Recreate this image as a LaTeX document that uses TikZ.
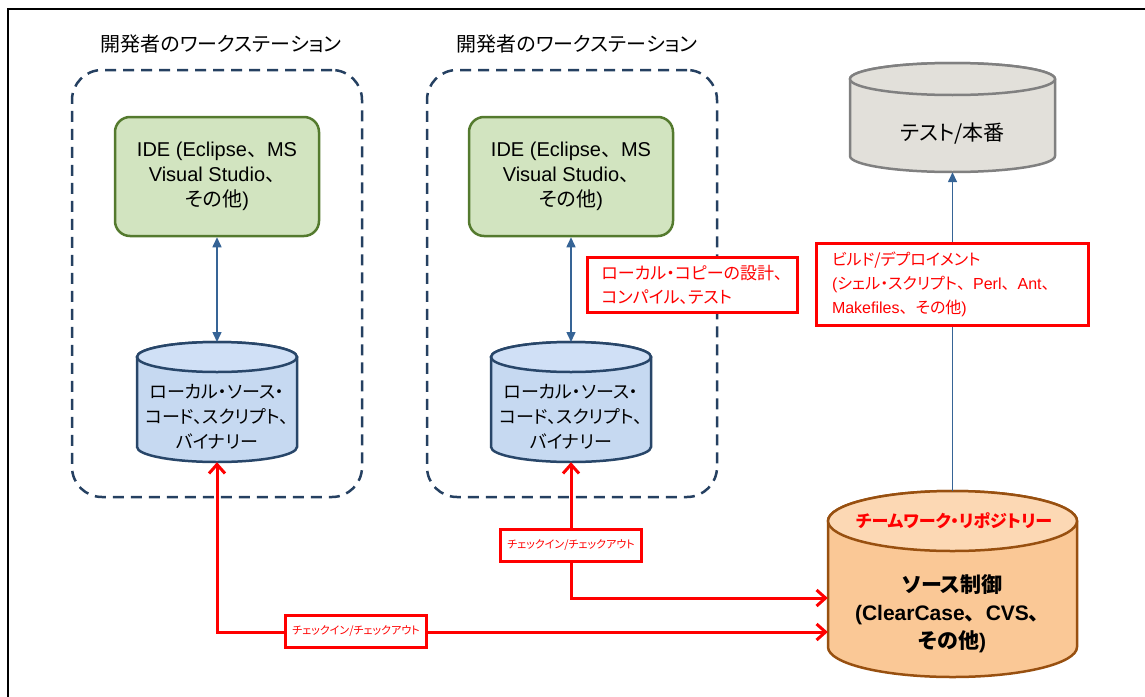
\documentclass[tikz,border=0pt]{standalone}
\usepackage{fontspec}
\setmainfont{Liberation Sans}
\newfontfamily\jp[RawFeature=+palt]{Noto Sans CJK JP}
\newfontfamily\jpw{Noto Sans CJK JP}
\usetikzlibrary{arrows.meta}
\newcommand\J[1]{{\jp #1}}
\newcommand\JW[1]{{\jpw #1}}

\definecolor{wsline}{RGB}{37,64,97}
\definecolor{idefill}{RGB}{210,228,192}
\definecolor{ideline}{RGB}{84,122,46}
\definecolor{locfill}{RGB}{198,217,241}
\definecolor{loctop}{RGB}{208,224,246}
\definecolor{locline}{RGB}{40,70,105}
\definecolor{arrowblue}{RGB}{54,100,150}
\definecolor{testfill}{RGB}{226,224,218}
\definecolor{testline}{RGB}{128,128,128}
\definecolor{repofill}{RGB}{250,200,150}
\definecolor{repotop}{RGB}{252,216,180}
\definecolor{repoline}{RGB}{152,80,16}
\definecolor{alertred}{RGB}{255,0,0}

% silhouette of a cylinder plus its top ellipse
% #1 body style, #2 top style, #3 centre x, #4 top-ellipse y, #5 bottom-ellipse y, #6 rx, #7 ry
\newcommand\dbcyl[7]{%
  \path[#1] ({#3-#6},#4) -- ({#3-#6},#5)
    arc[start angle=180,end angle=360,x radius=#6pt,y radius=#7pt]
    -- ({#3+#6},#4)
    arc[start angle=0,end angle=180,x radius=#6pt,y radius=#7pt] -- cycle;
  \path[#1,#2] (#3,#4) ellipse[x radius=#6pt,y radius=#7pt];
}

\begin{document}
\begin{tikzpicture}[x=1pt,y=-1pt,
  wsbox/.style={draw=wsline, line width=2.5pt, dash pattern=on 11pt off 7pt,
    rounded corners=30pt, inner sep=0pt},
  wstitle/.style={font=\fontsize{20}{24}\selectfont, inner sep=0pt},
  idebox/.style={draw=ideline, fill=idefill, line width=2.5pt, rounded corners=15pt,
    minimum width=204pt, minimum height=119pt, align=center, inner sep=0pt,
    font=\fontsize{20}{25}\selectfont},
  loccyl/.style={draw=locline, fill=locfill, line width=2.5pt},
  loctopfill/.style={fill=loctop},
  testcyl/.style={draw=testline, fill=testfill, line width=2.5pt},
  testtopfill/.style={fill=testfill},
  repocyl/.style={draw=repoline, fill=repofill, line width=2.5pt},
  repotopfill/.style={fill=repotop},
  cyltext/.style={align=center, inner sep=0pt},
  bluearrow/.style={draw=arrowblue, line width=1.5pt, >={Triangle[length=10pt,width=9pt]}},
  redarrow/.style={draw=alertred, line width=3pt, >={Straight Barb[length=9pt,width=16pt]}},
  notebox/.style={draw=alertred, fill=white, line width=3pt, text=alertred, align=left},
  ckbox/.style={draw=alertred, fill=white, line width=3pt, text=alertred,
    inner xsep=7pt, inner ysep=0pt, minimum height=32pt,
    font=\jp\fontsize{11}{13}\selectfont}
]
\useasboundingbox (0,0) rectangle (1145,696);

% outer frame
\draw[line width=1.5pt] (8,700) -- (8,9) -- (1150,9);

% developer workstations
\node[wsbox, minimum width=290pt, minimum height=427pt] (ws1) at (217,283.5) {};
\node[wsbox, minimum width=290pt, minimum height=427pt] (ws2) at (572,283.5) {};
\node[wstitle] (wst1) at (221,44) {\J{開発者のワークステーション}};
\node[wstitle] (wst2) at (577,44) {\J{開発者のワークステーション}};

% IDEs
\node[idebox] (ide1) at (217,176.5) {IDE (Eclipse\JW{、}MS\\Visual Studio\JW{、}\\\J{その他})};
\node[idebox] (ide2) at (571,176.5) {IDE (Eclipse\JW{、}MS\\Visual Studio\JW{、}\\\J{その他})};

% local working copies
\dbcyl{loccyl}{loctopfill}{217}{357}{447}{80}{15}
\dbcyl{loccyl}{loctopfill}{571}{357}{447}{80}{15}
\node[cyltext, minimum width=160pt, minimum height=90pt,
  font=\jp\fontsize{18}{25}\selectfont] (lc1) at (217,417)
  {ローカル・ソース・\\コード、スクリプト、\\バイナリー};
\node[cyltext, minimum width=160pt, minimum height=90pt,
  font=\jp\fontsize{18}{25}\selectfont] (lc2) at (571,417)
  {ローカル・ソース・\\コード、スクリプト、\\バイナリー};
\coordinate (lc1top) at (217,342);
\coordinate (lc2top) at (571,342);

% test / production
\dbcyl{testcyl}{testtopfill}{952.5}{79}{156}{102.5}{16}
\node[cyltext, minimum width=205pt, minimum height=77pt,
  font=\jp\fontsize{21}{25}\selectfont] (test) at (952.5,133.5) {テスト/本番};

% team repository
\dbcyl{repocyl}{repotopfill}{952.5}{521}{647}{124.5}{30}
\node[cyltext, text=alertred, font=\jp\bfseries\fontsize{17}{20}\selectfont]
  (repotitle) at (954,521) {チームワーク・リポジトリー};
\node[cyltext, minimum width=249pt, minimum height=126pt,
  font=\bfseries\fontsize{21}{28}\selectfont] (repo) at (952.5,614)
  {\J{ソース制御}\\(ClearCase\JW{、}CVS\JW{、}\\\J{その他})};
\coordinate (repotopc) at (952.5,491);

% edit/compile loops
\draw[bluearrow,<->] (ide1.south) -- (lc1top);
\draw[bluearrow,<->] (ide2.south) -- (lc2top);

% build / deploy
\draw[bluearrow,->] (repotopc) -- (test.south);

% check-in / check-out paths
\coordinate (bend1) at (217,632);
\coordinate (bend2) at (571,598);
\draw[redarrow,<->] (lc1.south) -- (bend1) -- (repo.west |- bend1);
\draw[redarrow,<->] (lc2.south) -- (bend2) -- (repo.west |- bend2);

% annotations
\node[notebox, minimum width=210pt, minimum height=55pt,
  font=\jp\fontsize{17}{24}\selectfont] (note1) at (692,284.5)
  {ローカル・コピーの設計、\\コンパイル、テスト};
\node[notebox, minimum width=272pt, minimum height=82pt, inner xsep=16pt,
  text width=240pt, font=\fontsize{16}{24}\selectfont] (note2) at (952,284)
  {\J{ビルド/デプロイメント}\\(\J{シェル・スクリプト}\JW{、}Perl\JW{、}Ant\JW{、}\\Makefiles\JW{、}\J{その他})};
\node[ckbox] (ck1) at (356,631) {チェックイン/チェックアウト};
\node[ckbox] (ck2) at (571,545) {チェックイン/チェックアウト};
\end{tikzpicture}
\end{document}
